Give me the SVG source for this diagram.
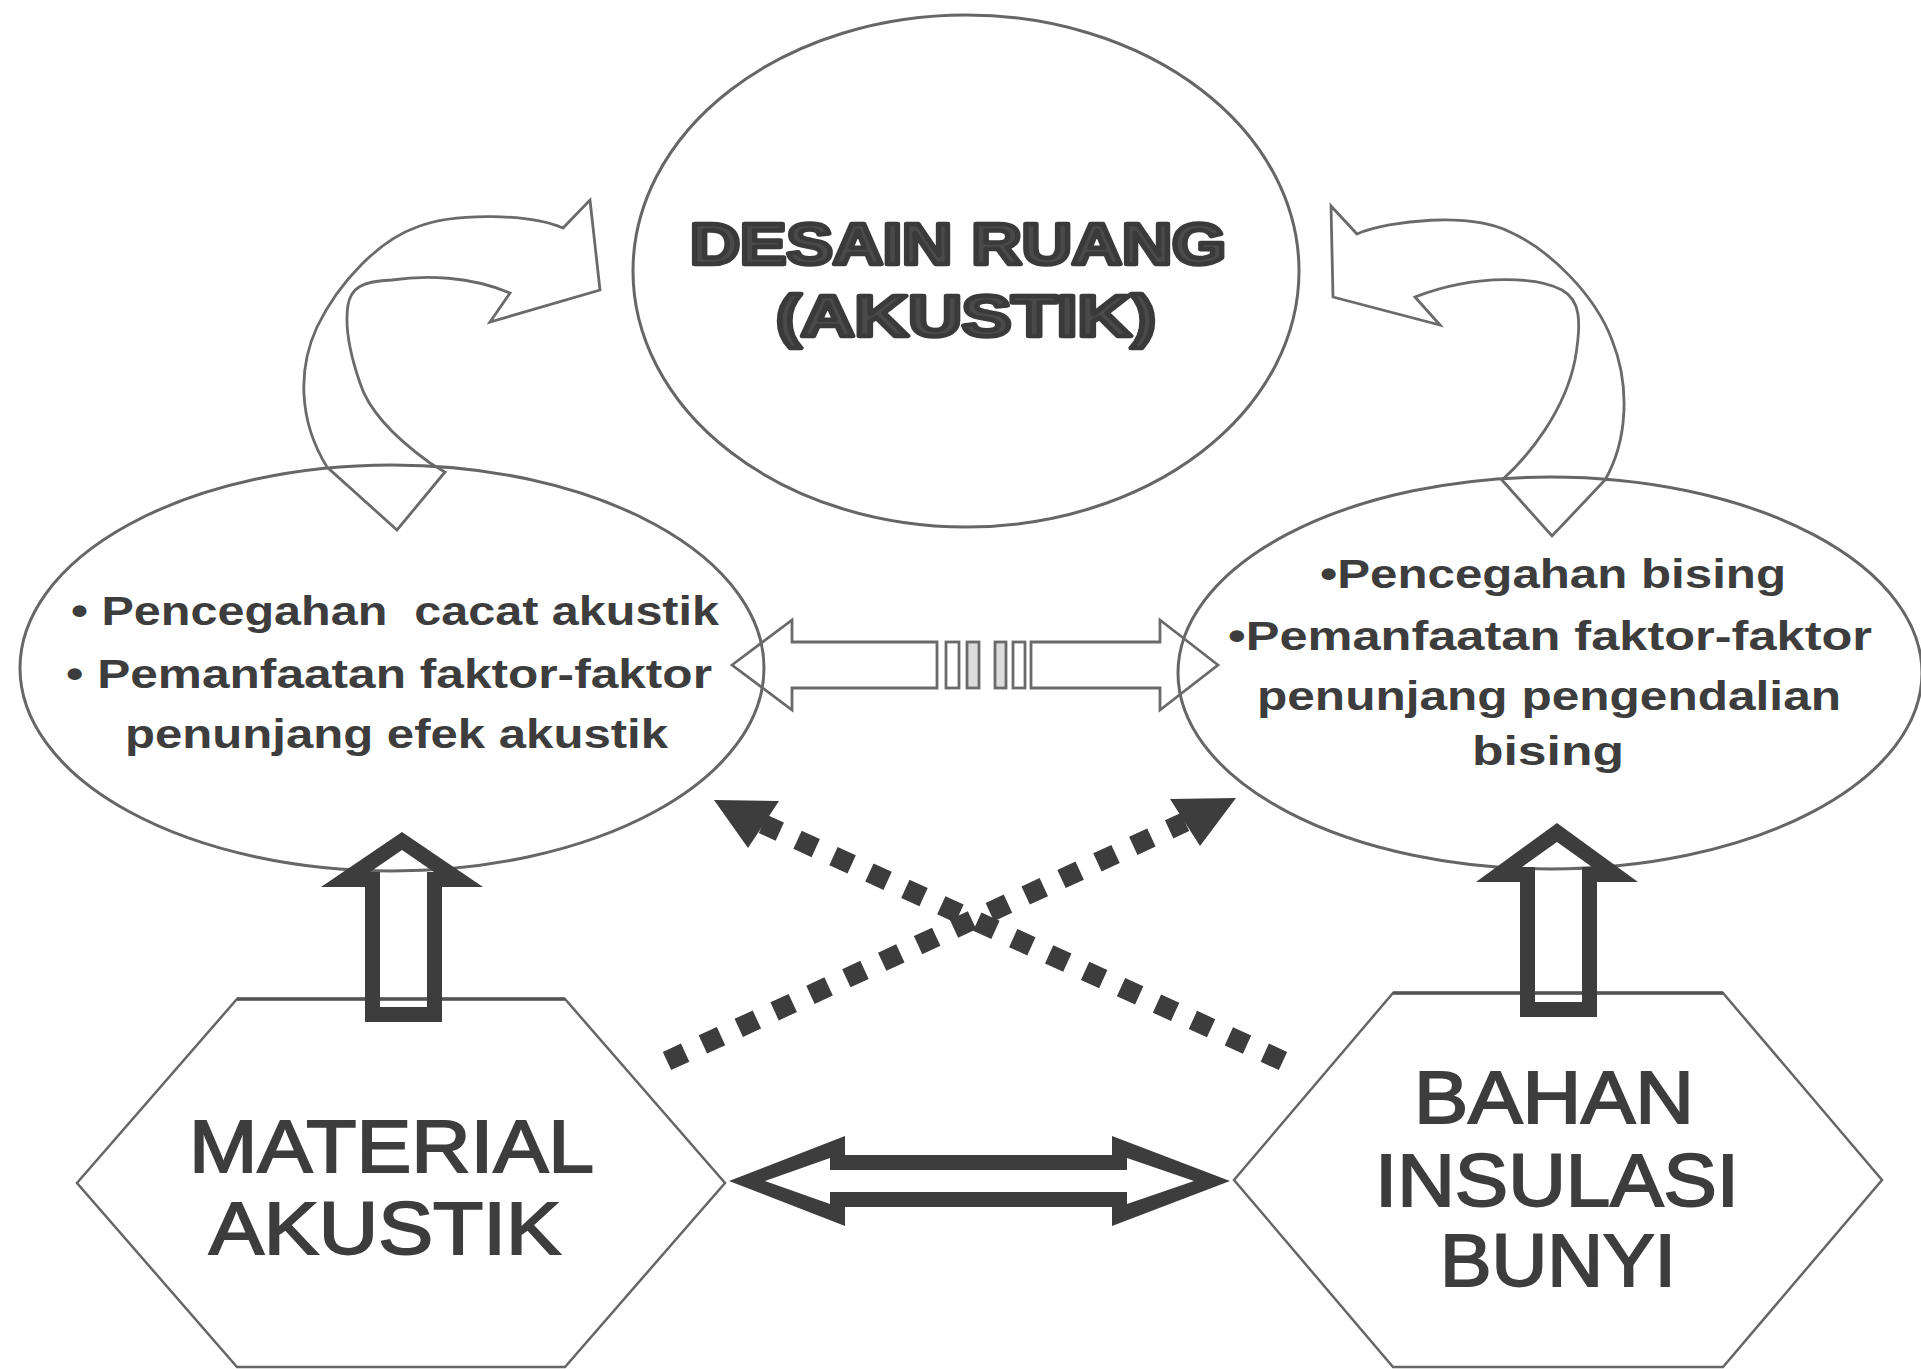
<svg xmlns="http://www.w3.org/2000/svg" width="1921" height="1369" viewBox="0 0 1921 1369">
<style>
.oval{fill:none;stroke:#666;stroke-width:3}
.hex{fill:none;stroke:#666;stroke-width:2.5}
.hextop{fill:none;stroke:#555;stroke-width:3.5}
.thin{fill:none;stroke:#6a6a6a;stroke-width:2.8;stroke-linejoin:miter}
.thick{fill:#3d3d3d;fill-rule:evenodd}
.dots{fill:none;stroke:#3d3d3d;stroke-width:20;stroke-dasharray:20 19.5}
.head{fill:#3d3d3d}
.title{font-family:"Liberation Sans",Arial,sans-serif;font-weight:bold;font-size:57px;fill:#4a4a4a;stroke:#3a3a3a;stroke-width:4.5;stroke-linejoin:round}
.body{font-family:"Liberation Sans",Arial,sans-serif;font-weight:bold;font-size:40px;fill:#3d3d3d}
.hext{font-family:"Liberation Sans",Arial,sans-serif;font-size:74px;fill:#3d3d3d;stroke:#3d3d3d;stroke-width:2}
</style>
<rect width="1921" height="1369" fill="#ffffff"/>

<g id="desain-ruang">
<ellipse class="oval" cx="966" cy="271" rx="333" ry="256"/>
<text class="title" x="690" y="264" textLength="536" lengthAdjust="spacingAndGlyphs">DESAIN RUANG</text>
<text class="title" x="776" y="336" textLength="380" lengthAdjust="spacingAndGlyphs">(AKUSTIK)</text>
</g>

<g id="efek-akustik">
<ellipse class="oval" cx="392" cy="668" rx="372" ry="203"/>
<text class="body" x="71" y="625" textLength="648" lengthAdjust="spacingAndGlyphs" xml:space="preserve">• Pencegahan  cacat akustik</text>
<text class="body" x="66" y="688" textLength="646" lengthAdjust="spacingAndGlyphs">• Pemanfaatan faktor-faktor</text>
<text class="body" x="125" y="748" textLength="543" lengthAdjust="spacingAndGlyphs">penunjang efek akustik</text>
</g>

<g id="pengendalian-bising">
<ellipse class="oval" cx="1550" cy="673" rx="372" ry="196"/>
<text class="body" x="1320" y="588" textLength="466" lengthAdjust="spacingAndGlyphs">•Pencegahan bising</text>
<text class="body" x="1228" y="650" textLength="644" lengthAdjust="spacingAndGlyphs">•Pemanfaatan faktor-faktor</text>
<text class="body" x="1257" y="710" textLength="584" lengthAdjust="spacingAndGlyphs">penunjang pengendalian</text>
<text class="body" x="1472" y="765" textLength="152" lengthAdjust="spacingAndGlyphs">bising</text>
</g>

<g id="material-akustik">
<polygon class="hex" points="237,999 565,999 725,1183 565,1367 237,1367 77,1183"/>
<line class="hextop" x1="237" y1="999" x2="565" y2="999"/>
<text class="hext" x="189" y="1172" textLength="405" lengthAdjust="spacingAndGlyphs">MATERIAL</text>
<text class="hext" x="209" y="1254" textLength="352" lengthAdjust="spacingAndGlyphs">AKUSTIK</text>
</g>

<g id="bahan-insulasi-bunyi">
<polygon class="hex" points="1393,993 1723,993 1882,1180 1723,1367 1393,1367 1234,1180"/>
<line class="hextop" x1="1393" y1="993" x2="1723" y2="993"/>
<text class="hext" x="1414" y="1123" textLength="280" lengthAdjust="spacingAndGlyphs">BAHAN</text>
<text class="hext" x="1375" y="1206" textLength="364" lengthAdjust="spacingAndGlyphs">INSULASI</text>
<text class="hext" x="1440" y="1286" textLength="236" lengthAdjust="spacingAndGlyphs">BUNYI</text>
</g>

<g id="connectors">
<path class="thin" d="M563,228 C530,214 455,212 417,227 C380,240 340,280 317,327 C298,368 298,420 327,467 L397,530 L445,472 L430,463 C405,445 370,415 360,383 C352,360 344,330 348,305 C351,288 362,281 392,280 C425,275 470,276 510,293 L490,322 L600,290 L590,200 Z"/>
<path class="thin" d="M1357,234 C1390,220 1470,212 1510,232 C1550,250 1595,295 1612,340 C1630,385 1628,440 1605,480 L1552,536 L1502,480 C1530,455 1565,410 1575,360 C1582,320 1580,300 1562,290 C1540,278 1480,272 1415,297 L1440,325 L1333,297 L1331,206 Z"/>

<path class="thin" d="M732,665 L792,620 L792,642 L937,642 L937,688 L792,688 L792,710 Z"/>
<rect class="thin" x="946" y="642" width="13" height="46"/>
<rect class="thin" x="967" y="642" width="12" height="46" style="fill:#dcdcdc"/>
<rect class="thin" x="995" y="642" width="11" height="46" style="fill:#dcdcdc"/>
<rect class="thin" x="1013" y="642" width="12" height="46"/>
<path class="thin" d="M1218,665 L1160,620 L1160,642 L1031,642 L1031,688 L1160,688 L1160,710 Z"/>

<line class="dots" x1="667" y1="1061" x2="1185" y2="822"/>
<polygon class="head" points="1236,798 1170,799 1200,846"/>
<line class="dots" x1="1283" y1="1061" x2="763" y2="824"/>
<polygon class="head" points="714,800 779,801 748,848"/>

<path class="thick" d="M402,832 L483,887 L442,887 L442,1022 L365,1022 L365,887 L321,887 Z M402,850 L370,872 L380,872 L380,1007 L427,1007 L427,872 L434,872 Z"/>
<path class="thick" d="M1557,823 L1638,882 L1597,882 L1597,1017 L1520,1017 L1520,882 L1476,882 Z M1557,842 L1522,867 L1535,867 L1535,1002 L1582,1002 L1582,867 L1592,867 Z"/>

<path class="thick" d="M729,1181 L845,1136 L845,1155 L1112,1155 L1112,1136 L1230,1181 L1112,1226 L1112,1207 L845,1207 L845,1226 Z M765,1181 L830,1158 L830,1170 L1127,1170 L1127,1158 L1194,1181 L1127,1204 L1127,1192 L830,1192 L830,1204 Z"/>
</g>
</svg>
